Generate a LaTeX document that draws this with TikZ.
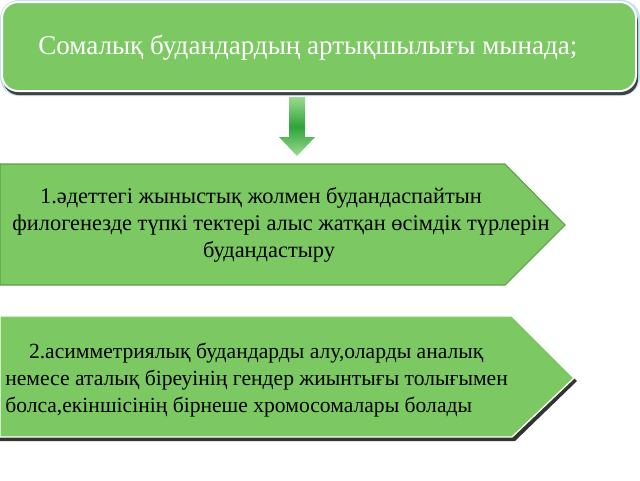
\documentclass[tikz,border=0pt]{standalone}
\usepackage{fontspec}
\setmainfont{Liberation Serif}
\begin{document}
\begin{tikzpicture}[x=0.75pt,y=-0.75pt,
  boxfill/.style={fill=grfill},
  titletext/.style={font=\fontsize{20.3}{24}\selectfont, text=white, anchor=west, inner sep=0},
  bodyone/.style={font=\fontsize{16.8}{20.25}\selectfont, text=black, inner sep=0},
  bodytwo/.style={font=\fontsize{16.2}{20}\selectfont, text=black, inner sep=0}
]
\definecolor{grfill}{HTML}{7CC963}
\definecolor{grline}{HTML}{5E9E4A}
\definecolor{glow}{HTML}{BFE3F0}
\definecolor{arrdark}{HTML}{2FA33A}
\definecolor{arrlight}{HTML}{9BDB8E}
\useasboundingbox (0,0) rectangle (640,480);
\fill[white] (0,0) rectangle (640,480);
% title box
\fill[glow, rounded corners=14] (0,0) rectangle (640,96);
\fill[black!75, rounded corners=12] (3,6) rectangle (638,95);
\draw[boxfill, draw=white, line width=1.5pt, rounded corners=12] (2,2) rectangle (636,91);
\node[titletext] (title) at (38,48) {Сомалық будандардың артықшылығы мынада;};
% arrow
\path[top color=arrlight, bottom color=arrlight, middle color=arrdark, shading angle=0]
  (289,97) -- (305,97) -- (305,137) -- (315,137) -- (297,156) -- (279,137) -- (289,137) -- cycle;
\coordinate (arrtip) at (297,156);
% box 1
\draw[boxfill, draw=grline, line width=0.8pt] (0,164) -- (505,164) -- (565,225) -- (505,285) -- (0,285) -- cycle;
\node[bodyone, align=center] (t1) at (281,225) {1.әдеттегі жыныстық жолмен будандаспайтын\hspace*{30pt}\\филогенезде түпкі тектері алыс жатқан өсімдік түрлерін\\будандастыру\hspace*{18pt}};
% box 2
\fill[black!80] (0,441) -- (515,441) -- (577,381) -- (574,378) -- (512,437) -- (0,437) -- cycle;
\draw[boxfill, draw=white, line width=1pt] (0,316) -- (512,316) -- (574,378) -- (512,437) -- (0,437) -- cycle;
\node[bodytwo, align=left, anchor=west] (t2) at (5,380) {\hspace*{1.1em}2.асимметриялық будандарды алу,оларды аналық\\немесе аталық біреуінің гендер жиынтығы толығымен\\болса,екіншісінің бірнеше хромосомалары болады};
\end{tikzpicture}
\end{document}
